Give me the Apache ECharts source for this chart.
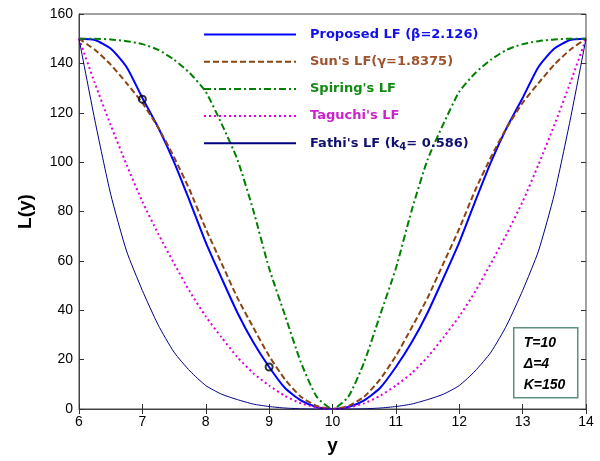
<!DOCTYPE html>
<html>
<head>
<meta charset="utf-8">
<script src="https://cdn.jsdelivr.net/npm/echarts@6/dist/echarts.min.js"></script>
<style>
  html, body { margin: 0; padding: 0; background: #fff; }
  #chart { width: 600px; height: 461px; }
</style>
</head>
<body>
<div id="chart"></div>
<script>
// y values (x axis)
const xs = [6, 6.25, 6.5, 6.75, 7, 7.25, 7.5, 7.75, 8, 8.25, 8.5, 8.75, 9, 9.25, 9.5, 9.75, 10,
  10.25, 10.5, 10.75, 11, 11.25, 11.5, 11.75, 12, 12.25, 12.5, 12.75, 13, 13.25, 13.5, 13.75, 14]

// loss values
const proposed = [150, 149.5, 146, 138.5, 126, 114, 100, 84, 67.5, 53, 39, 27, 17, 8.5, 3.5, 0.8, 0,
  0.8, 3.5, 8.5, 17, 27, 39, 53, 67.5, 84, 100, 114, 126, 138.5, 146, 149.5, 150]
const sun = [150, 145.5, 139.5, 132, 124, 114, 102, 88.5, 73, 59, 45, 33, 21.5, 12, 5, 1.2, 0,
  1.2, 5, 12, 21.5, 33, 45, 59, 73, 88.5, 102, 114, 124, 132, 139.5, 145.5, 150]
const spiring = [150, 150, 149.7, 149, 147.8, 145.5, 141.5, 136, 128.5, 115.5, 101, 80.5, 57, 38, 19, 5, 0,
  5, 19, 38, 57, 80.5, 101, 115.5, 128.5, 136, 141.5, 145.5, 147.8, 149, 149.7, 150, 150]
const taguchi = [150, 132, 115, 99, 84, 71, 59, 47.5, 37.5, 29, 21, 14.5, 9.5, 5.3, 2.3, 0.6, 0,
  0.6, 2.3, 5.3, 9.5, 14.5, 21, 29, 37.5, 47.5, 59, 71, 84, 99, 115, 132, 150]
const fathi = [150, 117, 87, 64, 48, 34, 23, 15.4, 9.5, 6, 3.8, 2, 1, 0.4, 0.1, 0, 0,
  0, 0.1, 0.4, 1, 2, 3.8, 6, 9.5, 15.4, 23, 34, 48, 64, 87, 117, 150]

// the two marked points
const marked = [[7, 125.5], [9, 17]]

const names = ['Proposed LF (β=2.126)', "Sun's LF(γ=1.8375)", "Spiring's LF", "Taguchi's LF", "Fathi's LF (k4= 0.586)"]
const textColors = ['#1010ee', '#a0522d', '#108a10', '#cc22cc', '#101070']

const pairs = arr => xs.map((x, i) => [x, arr[i]])

const lineSeries = (name, data, color, width, type) => ({
  name: name,
  type: 'line',
  data: pairs(data),
  symbol: 'none',
  smooth: 0.2,
  lineStyle: { color: color, width: width, type: type },
  itemStyle: { color: color },
  z: 3
})

const axisFont = { color: '#000', fontSize: 14, fontFamily: 'Liberation Sans, Arial' }
const tickStyle = { show: true, inside: true, length: 5, lineStyle: { color: '#333' } }

const option = {
  animation: false,
  grid: { left: 79, right: 14, top: 14, bottom: 52, show: true, borderColor: '#444', borderWidth: 1 },
  xAxis: [
    {
      type: 'value', min: 6, max: 14, interval: 1,
      name: 'y', nameLocation: 'middle', nameGap: 27,
      nameTextStyle: { color: '#000', fontSize: 19, fontWeight: 'bold', fontFamily: 'Liberation Sans, Arial' },
      axisLine: { show: true, lineStyle: { color: '#444' } },
      axisTick: tickStyle,
      axisLabel: Object.assign({ margin: 6 }, axisFont),
      splitLine: { show: false }
    },
    {
      type: 'value', min: 6, max: 14, interval: 1, position: 'top',
      axisLine: { show: false }, axisTick: tickStyle, axisLabel: { show: false }, splitLine: { show: false }
    }
  ],
  yAxis: [
    {
      type: 'value', min: 0, max: 160, interval: 20,
      name: 'L(y)', nameLocation: 'middle', nameGap: 44, nameRotate: 90,
      nameTextStyle: { color: '#000', fontSize: 19, fontWeight: 'bold', fontFamily: 'Liberation Sans, Arial' },
      axisLine: { show: true, lineStyle: { color: '#444' } },
      axisTick: tickStyle,
      axisLabel: Object.assign({ margin: 6 }, axisFont),
      splitLine: { show: false }
    },
    {
      type: 'value', min: 0, max: 160, interval: 20, position: 'right',
      axisLine: { show: false }, axisTick: tickStyle, axisLabel: { show: false }, splitLine: { show: false }
    }
  ],
  legend: {
    orient: 'vertical',
    left: 198,
    top: 23,
    itemWidth: 92,
    itemHeight: 14,
    itemGap: 14.2,
    itemStyle: { opacity: 0 },
    data: names.map((n, i) => ({ name: n, textStyle: { color: textColors[i] } })),
    formatter: function (name) {
      if (name === names[4]) return "Fathi's LF (k{sub|4}= 0.586)"
      return name
    },
    textStyle: {
      fontSize: 13,
      fontWeight: 'bold',
      fontFamily: 'DejaVu Sans',
      padding: [0, 0, 0, 9],
      rich: {
        sub: { fontSize: 10, fontWeight: 'bold', fontFamily: 'DejaVu Sans', color: '#101070', verticalAlign: 'bottom', padding: [8, 0, 0, 0] }
      }
    }
  },
  graphic: [
    {
      type: 'group',
      left: 513,
      top: 327,
      children: [
        { type: 'rect', shape: { x: 0, y: 0, width: 64, height: 70 }, style: { fill: '#fff', stroke: '#5f8f7f', lineWidth: 1.5 } },
        { type: 'text', x: 10, y: 8, style: { text: 'T=10', fill: '#000', font: 'italic bold 14px Liberation Sans, Arial' } },
        { type: 'text', x: 10, y: 29, style: { text: 'Δ=4', fill: '#000', font: 'italic bold 14px Liberation Sans, Arial' } },
        { type: 'text', x: 10, y: 50, style: { text: 'K=150', fill: '#000', font: 'italic bold 14px Liberation Sans, Arial' } }
      ]
    }
  ],
  series: [
    lineSeries(names[0], proposed, '#0000ff', 2, 'solid'),
    lineSeries(names[1], sun, '#8b4513', 2, [6, 3]),
    lineSeries(names[2], spiring, '#008000', 2, [7, 3, 2, 3]),
    lineSeries(names[3], taguchi, '#dd00dd', 2, [2, 3]),
    lineSeries(names[4], fathi, '#000080', 1, 'solid'),
    {
      type: 'scatter',
      data: marked,
      symbol: 'circle',
      symbolSize: 7,
      itemStyle: { color: 'transparent', borderColor: '#000', borderWidth: 2 },
      z: 5
    }
  ]
}

const chart = echarts.init(document.getElementById('chart'))
chart.setOption(option)
</script>
</body>
</html>
